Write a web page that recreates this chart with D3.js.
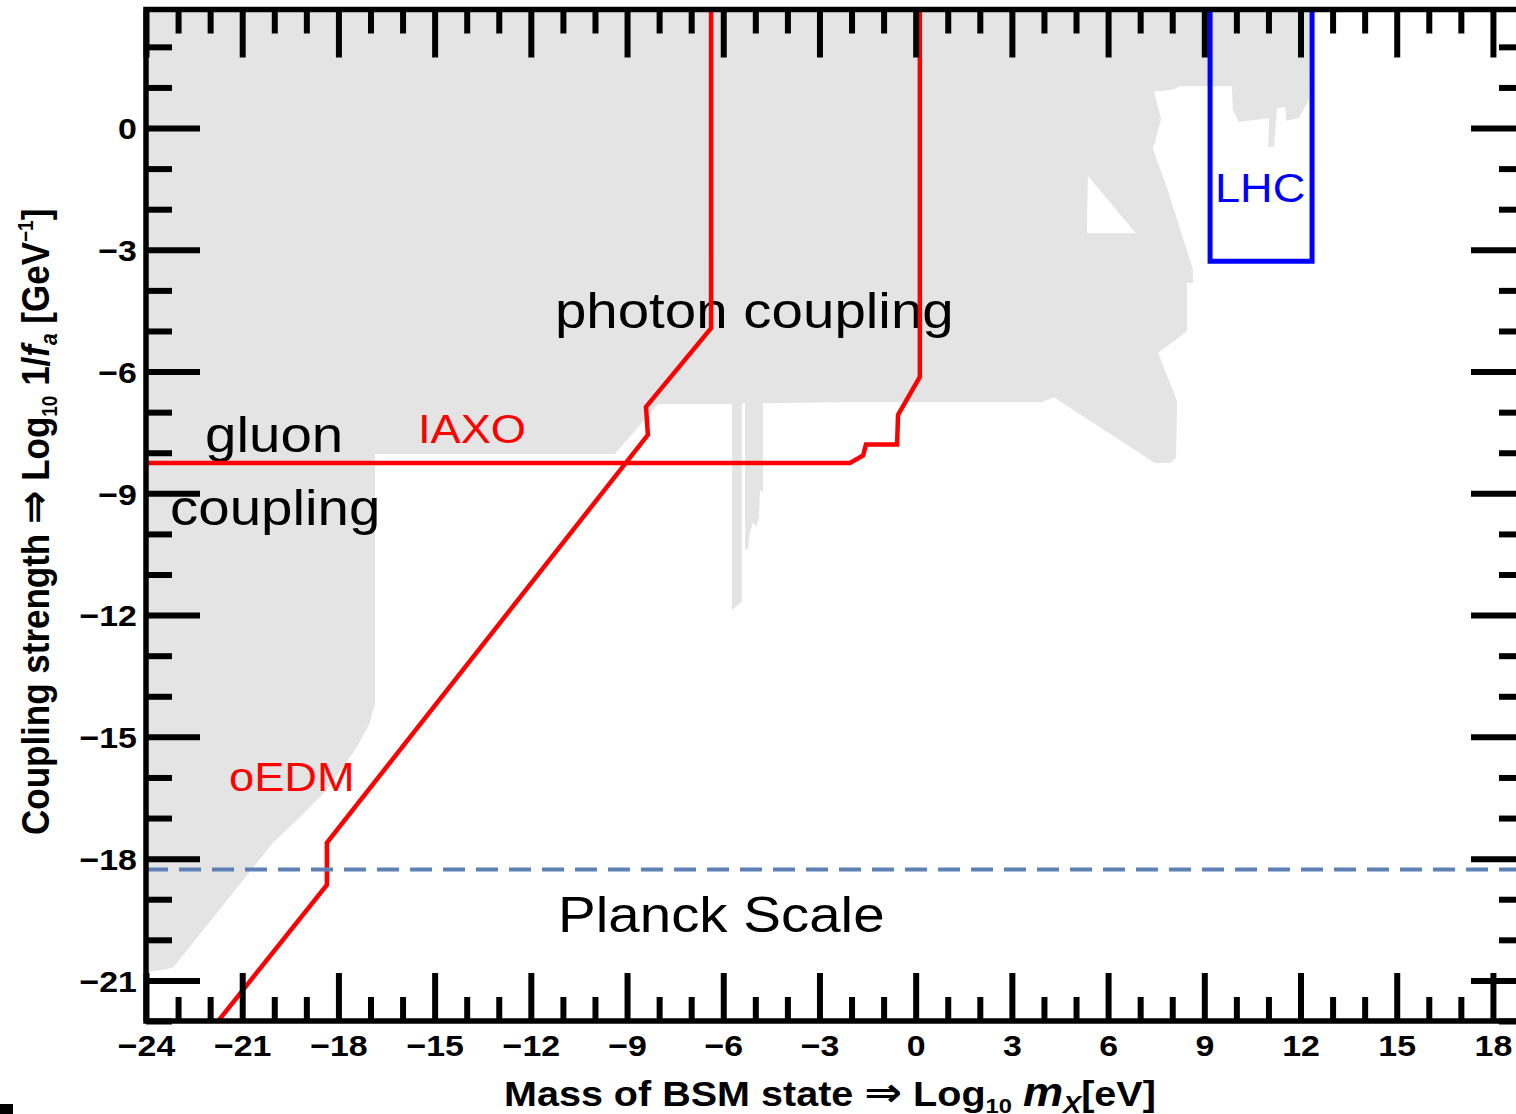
<!DOCTYPE html>
<html>
<head>
<meta charset="utf-8">
<script src="https://cdn.jsdelivr.net/npm/d3@7"></script>
<style>
  body { margin: 0; background: #fff; }
  svg { display: block; }
</style>
</head>
<body>
<script>
// ----- data (log10 units) ----- //

const xMajor = [-24, -21, -18, -15, -12, -9, -6, -3, 0, 3, 6, 9, 12, 15, 18];
const yMajor = [0, -3, -6, -9, -12, -15, -18, -21];

// excluded region (grey), outer boundary
const greyRegion = [
  [-24, 3], [12.30, 3], [12.26, 0.69], [11.95, 0.24], [11.55, 0.18], [11.52, 0.52],
  [11.27, 0.48], [11.17, -0.46], [10.99, -0.47], [11.02, 0.24], [10.08, 0.15],
  [9.89, 0.44], [9.86, 1.03], [8.24, 1.03], [8.02, 0.94], [7.43, 0.90], [7.65, 0.22],
  [7.40, -0.52], [7.84, -1.48], [8.65, -3.50], [8.65, -3.82], [8.46, -3.82],
  [8.46, -5.00], [7.56, -5.54], [8.15, -6.73], [8.12, -8.13], [7.93, -8.25],
  [7.46, -8.25], [4.31, -6.63], [3.94, -6.75], [-1.83, -6.75], [-4.76, -6.78],
  [-4.76, -8.99], [-4.85, -8.92], [-4.89, -9.61], [-4.98, -9.83], [-5.07, -9.71],
  [-5.17, -9.98], [-5.23, -10.37], [-5.32, -10.37], [-5.32, -6.78], [-5.42, -6.78],
  [-5.42, -11.68], [-5.73, -11.87], [-5.73, -6.80], [-8.03, -6.80], [-9.38, -8.03],
  [-16.86, -8.03], [-16.86, -14.17], [-17.02, -14.66], [-17.42, -15.25],
  [-18.36, -16.31], [-19.29, -17.05], [-20.04, -17.61], [-23.16, -20.69],
  [-23.88, -20.79], [-24.2, -20.82]
];
// white triangle inside it
const greyHole = [[5.37, -1.18], [6.87, -2.59], [5.34, -2.59]];

const iaxo = [
  [-24.2, -8.25], [-2.05, -8.25], [-1.64, -8.07], [-1.55, -7.80],
  [-0.58, -7.80], [-0.55, -7.07], [0.13, -6.13], [0.13, 3.2]
];
const oedm = [
  [-21.9, -22.15], [-18.36, -18.65], [-18.36, -17.61], [-8.35, -7.56],
  [-8.41, -6.87], [-6.38, -4.93], [-6.38, 3.2]
];
const lhc = [[9.18, 3.2], [9.18, -3.28], [12.36, -3.28], [12.36, 3.2]];
const planckScale = -18.27;

// ----- layout ----- //

const W = 1516, H = 1114;
const stretch = 1.13; // text in the picture is a bit wider than tall

const x = d3.scaleLinear().domain([-24, 19]).range([146, 1525]);
const y = d3.scaleLinear().domain([-22, 2.92]).range([1021, 9.5]);

const svg = d3.select('body').append('svg')
    .attr('width', W)
    .attr('height', H);

svg.append('defs').append('clipPath')
    .attr('id', 'plotClip')
  .append('rect')
    .attr('x', x(-24)).attr('y', y(2.92))
    .attr('width', x(19) - x(-24))
    .attr('height', y(-22) - y(2.92));

const plot = svg.append('g').attr('clip-path', 'url(#plotClip)');
const line = d3.line().x(d => x(d[0])).y(d => y(d[1]));

// grey region
plot.append('path')
    .attr('d', line(greyRegion) + 'Z' + line(greyHole) + 'Z')
    .attr('fill', '#e4e4e4')
    .attr('fill-rule', 'evenodd');

// labels inside the plot
function label(str, xv, yv, size, color) {
  plot.append('text')
      .attr('transform', `translate(${x(xv)},${y(yv)}) scale(${stretch},1)`)
      .style('font-family', '"Liberation Sans", Arial, sans-serif')
      .style('font-size', size + 'px')
      .attr('fill', color)
      .text(str);
}
label('photon coupling', -11.25, -4.93, 50, '#000');
label('gluon', -22.16, -7.98, 50, '#000');
label('coupling', -23.25, -9.78, 50, '#000');
label('IAXO', -15.52, -7.76, 40, '#ff0000');
label('oEDM', -21.41, -16.33, 40, '#ff0000');
label('LHC', 9.33, -1.82, 40, '#0000ff');
label('Planck Scale', -11.15, -19.81, 50, '#000');

// curves
[iaxo, oedm].forEach(c => {
  plot.append('path')
      .attr('d', line(c))
      .attr('fill', 'none')
      .attr('stroke', '#ff0000')
      .attr('stroke-width', 4.5)
      .attr('stroke-linejoin', 'miter');
});

plot.append('path')
    .attr('d', line(lhc))
    .attr('fill', 'none')
    .attr('stroke', '#0000ff')
    .attr('stroke-width', 5);

plot.append('line')
    .attr('x1', x(-24)).attr('x2', x(19))
    .attr('y1', y(planckScale)).attr('y2', y(planckScale))
    .attr('stroke', '#5e81b5')
    .attr('stroke-width', 4)
    .attr('stroke-dasharray', '22,11');

// ----- frame and ticks ----- //

const fmt = d => d < 0 ? '\u2212' + Math.abs(d) : String(d);
const xMinor = d3.range(-24, 20).filter(v => !xMajor.includes(v));
const yMinor = d3.range(-22, 3).filter(v => !yMajor.includes(v));

function styleAxis(g, withText, dy) {
  g.select('.domain').remove();
  g.selectAll('.tick line').attr('stroke', '#000').attr('stroke-width', 6);
  if (withText) {
    g.selectAll('.tick text')
        .attr('fill', '#000')
        .attr('dy', dy)
        .attr('transform', `scale(${stretch},1)`)
        .style('font-family', '"Liberation Sans", Arial, sans-serif')
        .style('font-size', '30px')
        .style('font-weight', 'bold');
  } else {
    g.selectAll('.tick text').remove();
  }
}

const axes = svg.append('g');

// bottom
axes.append('g').attr('transform', `translate(0,${y(-22)})`)
    .call(d3.axisBottom(x).tickValues(xMajor).tickSizeInner(-48).tickSizeOuter(0).tickPadding(14).tickFormat(fmt))
    .call(g => styleAxis(g, true, '0.71em'));
axes.append('g').attr('transform', `translate(0,${y(-22)})`)
    .call(d3.axisBottom(x).tickValues(xMinor).tickSizeInner(-24).tickSizeOuter(0))
    .call(g => styleAxis(g, false));
// top
axes.append('g').attr('transform', `translate(0,${y(2.92)})`)
    .call(d3.axisTop(x).tickValues(xMajor).tickSizeInner(-48).tickSizeOuter(0))
    .call(g => styleAxis(g, false));
axes.append('g').attr('transform', `translate(0,${y(2.92)})`)
    .call(d3.axisTop(x).tickValues(xMinor).tickSizeInner(-24).tickSizeOuter(0))
    .call(g => styleAxis(g, false));
// left
axes.append('g').attr('transform', `translate(${x(-24)},0)`)
    .call(d3.axisLeft(y).tickValues(yMajor).tickSizeInner(-54).tickSizeOuter(0).tickPadding(8).tickFormat(fmt))
    .call(g => styleAxis(g, true, '0.36em'));
axes.append('g').attr('transform', `translate(${x(-24)},0)`)
    .call(d3.axisLeft(y).tickValues(yMinor).tickSizeInner(-26).tickSizeOuter(0))
    .call(g => styleAxis(g, false));
// right
axes.append('g').attr('transform', `translate(${x(19)},0)`)
    .call(d3.axisRight(y).tickValues(yMajor).tickSizeInner(-54).tickSizeOuter(0))
    .call(g => styleAxis(g, false));
axes.append('g').attr('transform', `translate(${x(19)},0)`)
    .call(d3.axisRight(y).tickValues(yMinor).tickSizeInner(-26).tickSizeOuter(0))
    .call(g => styleAxis(g, false));

svg.append('rect')
    .attr('x', x(-24)).attr('y', y(2.92))
    .attr('width', x(19) - x(-24))
    .attr('height', y(-22) - y(2.92))
    .attr('fill', 'none')
    .attr('stroke', '#000')
    .attr('stroke-width', 5.5);

// ----- axis titles ----- //

const arrowFont = '"DejaVu Sans", sans-serif';

const xTitle = svg.append('text')
    .attr('transform', `translate(504,1106) scale(${stretch},1)`)
    .style('font-family', '"Liberation Sans", Arial, sans-serif')
    .style('font-size', '35px')
    .style('font-weight', 'bold')
    .attr('fill', '#000');
xTitle.append('tspan').text('Mass of BSM state ');
xTitle.append('tspan').style('font-family', arrowFont).style('font-size', '40px').text('\u21D2');
xTitle.append('tspan').text(' Log');
xTitle.append('tspan').attr('dy', 7).style('font-size', '21px').text('10');
xTitle.append('tspan').attr('dy', -7).text(' ');
xTitle.append('tspan').style('font-style', 'italic').style('font-size', '40px').text('m');
xTitle.append('tspan').attr('dy', 7).style('font-style', 'italic').style('font-size', '24px').text('X');
xTitle.append('tspan').attr('dy', -7).text('[eV]');

const yTitle = svg.append('text')
    .attr('transform', `translate(49,835) scale(${stretch},1) rotate(-90)`)
    .style('font-family', '"Liberation Sans", Arial, sans-serif')
    .style('font-size', '35px')
    .style('font-weight', 'bold')
    .attr('fill', '#000');
yTitle.append('tspan').text('Coupling strength ');
yTitle.append('tspan').style('font-family', arrowFont).style('font-size', '40px').text('\u21D2');
yTitle.append('tspan').text(' Log');
yTitle.append('tspan').attr('dy', 7).style('font-size', '19px').text('10');
yTitle.append('tspan').attr('dy', -7).text(' 1/');
yTitle.append('tspan').style('font-style', 'italic').text('f');
yTitle.append('tspan').attr('dy', 7).style('font-style', 'italic').style('font-size', '21px').text('a');
yTitle.append('tspan').attr('dy', -7).text(' [GeV');
yTitle.append('tspan').attr('dy', -14).style('font-size', '19px').text('\u22121');
yTitle.append('tspan').attr('dy', 14).text(']');

// small mark in the lower left corner of the picture
svg.append('rect')
    .attr('x', 0).attr('y', 1104)
    .attr('width', 13).attr('height', 10)
    .attr('fill', '#000');
</script>
</body>
</html>
